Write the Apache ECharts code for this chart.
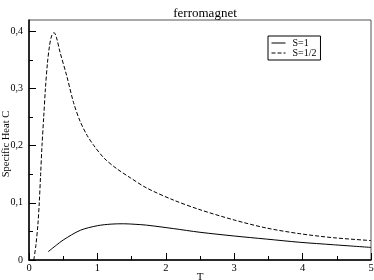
<!DOCTYPE html>
<html>
<head>
<meta charset="utf-8">
<script src="https://cdn.jsdelivr.net/npm/echarts@6/dist/echarts.min.js"></script>
<style>html,body{margin:0;padding:0;background:#fff}#c{width:374px;height:280px}</style>
</head>
<body>
<div id="c"></div>
<script>
const titleText = 'ferromagnet';
const xName = 'T';
const yName = 'Specific Heat C';
const seriesNames = ['S=1', 'S=1/2'];
const xTicks = [0, 1, 2, 3, 4, 5];
const xMinorTicks = [0.5, 1.5, 2.5, 3.5, 4.5];
const yTicks = [0, 0.1, 0.2, 0.3, 0.4];
const yMinorTicks = [0.05, 0.15, 0.25, 0.35];

const tS1 = [0.28, 0.4, 0.5, 0.75, 1.0, 1.2, 1.38, 1.55, 1.72, 2.11, 2.5, 3.0, 3.47, 3.96, 4.45, 5.0];
const cS1 = [0.0145, 0.026, 0.035, 0.052, 0.060, 0.0628, 0.0634, 0.0625, 0.061, 0.055, 0.0485, 0.042, 0.0366, 0.031, 0.0267, 0.022];

const tHalf = [0.07, 0.10, 0.13, 0.15, 0.17, 0.19, 0.215, 0.24, 0.27, 0.30, 0.33, 0.366, 0.40, 0.453, 0.55, 0.65, 0.746, 0.85, 0.95, 1.1, 1.28, 1.48, 1.72, 2.11, 2.5, 3.0, 3.47, 3.96, 4.45, 5.0];
const cHalf = [0, 0.025, 0.062, 0.10, 0.15, 0.20, 0.25, 0.30, 0.345, 0.375, 0.392, 0.398, 0.39, 0.364, 0.323, 0.276, 0.243, 0.218, 0.200, 0.178, 0.160, 0.144, 0.126, 0.105, 0.088, 0.070, 0.056, 0.046, 0.039, 0.034];

const zip = (a, b) => a.map((v, i) => [v, b[i]]);
const font = 'Liberation Serif';
const fmt = v => String(Math.round(v * 10) / 10).replace('.', ',');

const chart = echarts.init(document.getElementById('c'));
chart.setOption({
  animation: false,
  backgroundColor: '#fff',
  title: {
    text: titleText, left: 200, textAlign: 'center', top: 2,
    textStyle: {fontFamily: font, fontSize: 13, fontWeight: 'normal', color: '#000'}
  },
  legend: {
    orient: 'vertical', left: 268, top: 36,
    padding: [2, 4, 2, 3], itemGap: 0, itemWidth: 14, itemHeight: 10,
    borderColor: '#000', borderWidth: 1,
    data: seriesNames,
    itemStyle: {opacity: 0},
    lineStyle: {width: 1},
    textStyle: {fontFamily: font, fontSize: 10, color: '#000', padding: [0, 0, 0, 2]}
  },
  grid: {left: 29, right: 3, top: 20, bottom: 20, show: true, borderColor: '#555', borderWidth: 1, outerBoundsMode: 'none', containLabel: false},
  xAxis: [{
    type: 'value', min: 0, max: 5, interval: 1,
    name: xName, nameLocation: 'middle', nameGap: 12, nameMoveOverlap: false,
    nameTextStyle: {fontFamily: font, fontSize: 11, color: '#000'},
    axisLine: {lineStyle: {color: '#000', width: 1.5}},
    axisTick: {inside: true, length: 7, lineStyle: {color: '#000'}},
    minorTick: {show: true, splitNumber: 2, length: 4, lineStyle: {color: '#000'}},
    axisLabel: {fontFamily: font, fontSize: 10.5, color: '#000', margin: 3, formatter: v => String(v)},
    splitLine: {show: false}
  }],
  yAxis: [{
    type: 'value', min: 0, max: 0.42,
    name: yName, nameLocation: 'middle', nameGap: 17, nameMoveOverlap: false,
    nameTextStyle: {fontFamily: font, fontSize: 10.5, color: '#000', padding: [0, 8, 0, 0]},
    axisLine: {lineStyle: {color: '#000', width: 1.5}},
    axisTick: {inside: true, length: 7, customValues: yTicks, lineStyle: {color: '#000'}},
    axisLabel: {fontFamily: font, fontSize: 10, color: '#000', margin: 6, customValues: yTicks, formatter: fmt},
    splitLine: {show: false}
  }, {
    type: 'value', min: 0, max: 0.42, position: 'left',
    axisLine: {show: false},
    axisTick: {show: true, inside: true, length: 4, customValues: yMinorTicks, lineStyle: {color: '#000'}},
    axisLabel: {show: false},
    splitLine: {show: false}
  }],
  series: [{
    name: seriesNames[0], type: 'line', data: zip(tS1, cS1), smooth: 0.3,
    symbol: 'none', lineStyle: {color: '#000', width: 1}, itemStyle: {color: '#000'}
  }, {
    name: seriesNames[1], type: 'line', data: zip(tHalf, cHalf), smooth: 0.3,
    symbol: 'none', lineStyle: {color: '#000', width: 1, type: [4, 2]}, itemStyle: {color: '#000'}
  }]
});
</script>
</body>
</html>
